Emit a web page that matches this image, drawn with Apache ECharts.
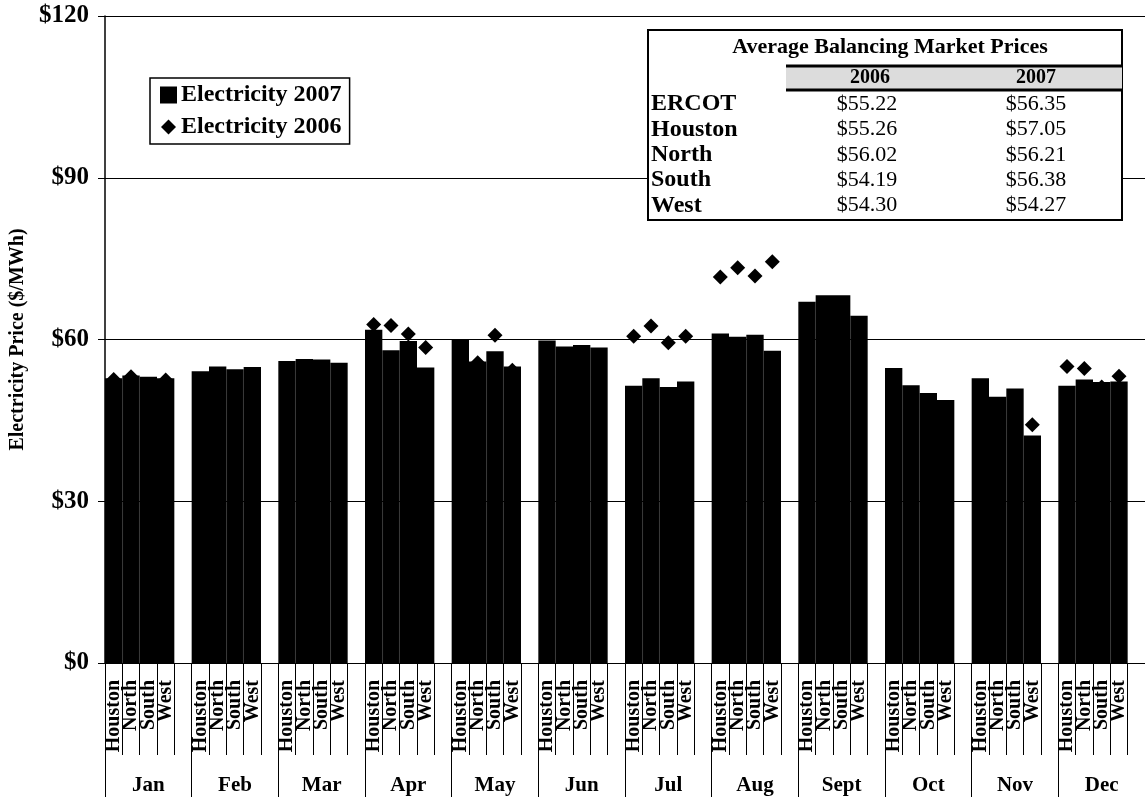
<!DOCTYPE html>
<html>
<head>
<meta charset="utf-8">
<script src="https://cdn.jsdelivr.net/npm/echarts@6/dist/echarts.min.js"></script>
<style>
  html, body { margin: 0; padding: 0; background: #fff; }
  #chart { width: 1145px; height: 800px; }
</style>
</head>
<body>
<div id="chart"></div>
<script>
// Monthly balancing-market electricity prices by zone ($/MWh)
const months = ['Jan', 'Feb', 'Mar', 'Apr', 'May', 'Jun', 'Jul', 'Aug', 'Sept', 'Oct', 'Nov', 'Dec'];
const regions = ['Houston', 'North', 'South', 'West'];

const houston2007 = [52.8, 54.1, 56.0, 61.8, 60.0, 59.8, 51.4, 61.1, 67.0, 54.7, 52.8, 51.4];
const north2007   = [53.3, 55.0, 56.4, 58.0, 55.9, 58.7, 52.8, 60.5, 68.2, 51.5, 49.4, 52.6];
const south2007   = [53.1, 54.5, 56.3, 59.7, 57.8, 59.0, 51.2, 60.9, 68.2, 50.1, 50.9, 52.1];
const west2007    = [52.8, 54.9, 55.7, 54.8, 55.0, 58.5, 52.2, 57.9, 64.4, 48.8, 42.2, 52.2];

const houston2006 = [52.6, 51.0, 52.0, 62.8, 54.0, 53.0, 60.6, 71.6, 55.0, 50.0, 47.0, 55.0];
const north2006   = [53.1, 52.0, 52.0, 62.6, 55.7, 55.0, 62.5, 73.3, 60.0, 47.0, 45.0, 54.6];
const south2006   = [51.0, 50.0, 51.0, 61.0, 60.8, 53.0, 59.4, 71.8, 55.0, 46.0, 44.0, 51.2];
const west2006    = [52.5, 51.0, 51.0, 58.5, 54.3, 53.0, 60.6, 74.4, 55.0, 45.0, 44.2, 53.2];

const yMin = 0, yMax = 120, yStep = 30;

// Average balancing market prices table
const tableTitle = 'Average Balancing Market Prices';
const tableYears = ['2006', '2007'];
const tableRows = ['ERCOT', 'Houston', 'North', 'South', 'West'];
const avg2006 = ['$55.22', '$55.26', '$56.02', '$54.19', '$54.30'];
const avg2007 = ['$56.35', '$57.05', '$56.21', '$56.38', '$54.27'];

const FONT = "'Liberation Serif', 'Times New Roman', serif";

// Each month gets four zone slots plus one empty spacer slot
const by2007 = [houston2007, north2007, south2007, west2007];
const by2006 = [houston2006, north2006, south2006, west2006];
const slotKeys = [], bars2007 = [], marks2006 = [];
months.forEach((m, i) => {
  regions.forEach((r, j) => {
    slotKeys.push(m + '|' + r);
    bars2007.push(by2007[j][i]);
    marks2006.push(by2006[j][i]);
  });
  slotKeys.push(m + '|');
  bars2007.push(null);
  marks2006.push(null);
});

// Table graphics
const TX = 648, TY = 30, TW = 474, TH = 190;
const col2006 = 870, col2007 = 1036, headerY = 78;
const rowY0 = 104, rowStep = 25.4;
const tableGraphics = [
  { type: 'rect', shape: { x: TX, y: TY, width: TW, height: TH },
    style: { fill: '#fff', stroke: '#000', lineWidth: 2 } },
  { type: 'rect', shape: { x: 786, y: 66, width: TW - (786 - TX), height: 24 },
    style: { fill: '#dcdcdc' } },
  { type: 'line', shape: { x1: 786, y1: 66, x2: TX + TW, y2: 66 },
    style: { stroke: '#000', lineWidth: 3 } },
  { type: 'line', shape: { x1: 786, y1: 90, x2: TX + TW, y2: 90 },
    style: { stroke: '#000', lineWidth: 3 } },
  { type: 'text', x: 890, y: 47,
    style: { text: tableTitle, font: 'bold 22px ' + FONT, fill: '#000', align: 'center', verticalAlign: 'middle' } },
  { type: 'text', x: col2006, y: headerY,
    style: { text: tableYears[0], font: 'bold 20px ' + FONT, fill: '#000', align: 'center', verticalAlign: 'middle' } },
  { type: 'text', x: col2007, y: headerY,
    style: { text: tableYears[1], font: 'bold 20px ' + FONT, fill: '#000', align: 'center', verticalAlign: 'middle' } }
];
tableRows.forEach((r, i) => {
  const y = rowY0 + i * rowStep;
  tableGraphics.push(
    { type: 'text', x: 651, y: y,
      style: { text: r, font: 'bold 24px ' + FONT, fill: '#000', align: 'left', verticalAlign: 'middle' } },
    { type: 'text', x: col2006 - 3, y: y,
      style: { text: avg2006[i], font: '22px ' + FONT, fill: '#000', align: 'center', verticalAlign: 'middle' } },
    { type: 'text', x: col2007, y: y,
      style: { text: avg2007[i], font: '22px ' + FONT, fill: '#000', align: 'center', verticalAlign: 'middle' } }
  );
});

const chart = echarts.init(document.getElementById('chart'), null, { renderer: 'canvas' });
chart.setOption({
  animation: false,
  backgroundColor: '#fff',
  grid: { left: 105, top: 16, width: 1062, height: 647, containLabel: false },
  legend: {
    left: 150, top: 78, orient: 'vertical',
    backgroundColor: '#fff', borderColor: '#000', borderWidth: 1.5,
    padding: [5, 8, 5, 10], itemGap: 8, itemWidth: 15, itemHeight: 15,
    textStyle: { fontFamily: FONT, fontWeight: 'bold', fontSize: 24, color: '#000' },
    data: [
      { name: 'Electricity 2007', icon: 'rect' },
      { name: 'Electricity 2006', icon: 'diamond' }
    ]
  },
  xAxis: [
    {
      type: 'category', data: slotKeys, position: 'bottom',
      axisLine: { show: true, lineStyle: { color: '#000', width: 1 } },
      axisTick: { show: true, interval: 0, length: 92, lineStyle: { color: '#000', width: 1 } },
      axisLabel: {
        interval: 0, rotate: 90, margin: 17, color: '#000',
        fontFamily: FONT, fontWeight: 'bold', fontSize: 20,
        formatter: k => k.split('|')[1] || ''
      },
      splitLine: { show: false }
    },
    {
      type: 'category', data: months, position: 'bottom',
      axisLine: { show: false },
      axisTick: { show: true, interval: 0, length: 134, lineStyle: { color: '#000', width: 1 } },
      axisLabel: {
        interval: 0, margin: 112, color: '#000',
        fontFamily: FONT, fontWeight: 'bold', fontSize: 21
      },
      splitLine: { show: false }
    }
  ],
  yAxis: {
    type: 'value', min: yMin, max: yMax, interval: yStep,
    name: 'Electricity Price ($/MWh)', nameLocation: 'middle', nameGap: 76, nameRotate: 90,
    nameTextStyle: { fontFamily: FONT, fontWeight: 'bold', fontSize: 20, color: '#000' },
    axisLine: { show: true, lineStyle: { color: '#000', width: 1.5 } },
    axisTick: { show: true, length: 7, lineStyle: { color: '#000' } },
    axisLabel: {
      formatter: v => '$' + v, margin: 16, color: '#000',
      fontFamily: FONT, fontWeight: 'bold', fontSize: 25
    },
    splitLine: { show: true, lineStyle: { color: '#000', width: 1 } }
  },
  series: [
    {
      name: 'Electricity 2007', type: 'bar', xAxisIndex: 0,
      data: bars2007, barCategoryGap: '0%', barGap: '0%',
      itemStyle: { color: '#000', borderColor: '#000', borderWidth: 1.6 }, z: 2
    },
    {
      name: 'Electricity 2006', type: 'scatter', xAxisIndex: 0,
      data: marks2006, symbol: 'diamond', symbolSize: [15, 15],
      itemStyle: { color: '#000', opacity: 1 }, z: 3
    }
  ],
  graphic: { elements: tableGraphics.map(g => Object.assign({ z: 100 }, g)) }
});
</script>
</body>
</html>
